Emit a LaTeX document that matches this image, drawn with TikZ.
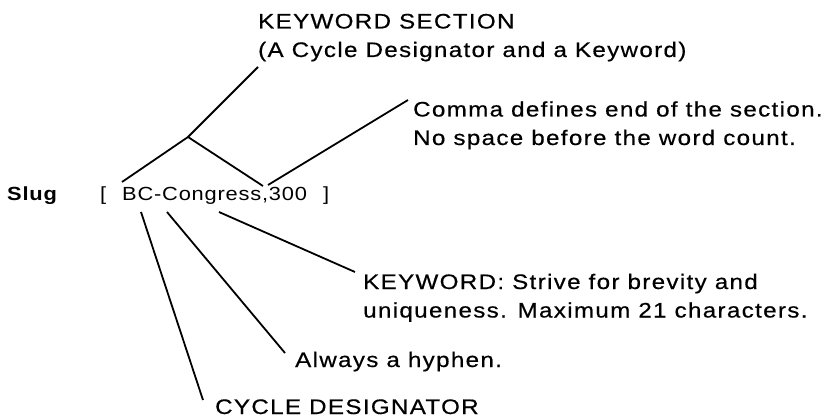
\documentclass[tikz,border=0pt]{standalone}
\usepackage{fontspec}
\setmainfont{Liberation Sans}[FakeStretch=1.15,LetterSpace=6.4,FakeBold=0.5]
\newfontfamily\slugfont{Liberation Sans}[FakeStretch=1.15,LetterSpace=4.2]
\begin{document}
\begin{tikzpicture}[x=1pt,y=-1pt,
		note/.style={anchor=base west,inner sep=0pt,align=left,font=\fontsize{21}{28.5}\selectfont},
		slugtext/.style={anchor=base west,inner sep=0pt,font=\slugfont\fontsize{19}{22}\selectfont},
		lead/.style={black,line width=1.8pt}]
					\useasboundingbox (0,0) rectangle (839,417);
					% the slug line
					\node[slugtext,font=\slugfont\fontsize{19}{22}\selectfont\bfseries] (slug) at (7,201){Slug};
					\node[slugtext] (lbr) at (100,201){[};
					\node[slugtext] (field) at (122,201){BC-Congress,300};
					\node[slugtext] (rbr) at (323,201){]};
		
					% notes (base = last line)
					\node[note] (ksec) at (258,57){KEYWORD SECTION\\(A Cycle Designator and a Keyword)};
					\node[note] (comma) at (413,145){Comma defines end of the section.\\No space before the word count.};
					\node[note] (kword) at (363,317.5){KEYWORD: Strive for brevity and\\uniqueness. Maximum 21 characters.};
					\node[note] (hyph) at (295,367){Always a hyphen.};
					\node[note] (cycle) at (215,414){CYCLE DESIGNATOR};
		
					% leader ends
					\coordinate (bktL) at (122,182);
					\coordinate (bktJ) at (188,137);
					\coordinate (bktR) at (263,186);
					\coordinate (stemtop) at (258,67);
					\coordinate (commaA) at (268,185);
					\coordinate (commaB) at (408,100);
					\coordinate (cycA) at (141,212);
					\coordinate (cycB) at (203,400);
					\coordinate (hyphA) at (167,212);
					\coordinate (hyphB) at (285,353);
					\coordinate (kwA) at (219,212);
					\coordinate (kwB) at (355,272);
		
					\draw[lead](bktL)--(bktJ)--(bktR);
					\draw[lead](bktJ)--(stemtop);
					\draw[lead](commaA)--(commaB);
					\draw[lead](cycA)--(cycB);
					\draw[lead](hyphA)--(hyphB);
					\draw[lead](kwA)--(kwB);
				\end{tikzpicture}
\end{document}
